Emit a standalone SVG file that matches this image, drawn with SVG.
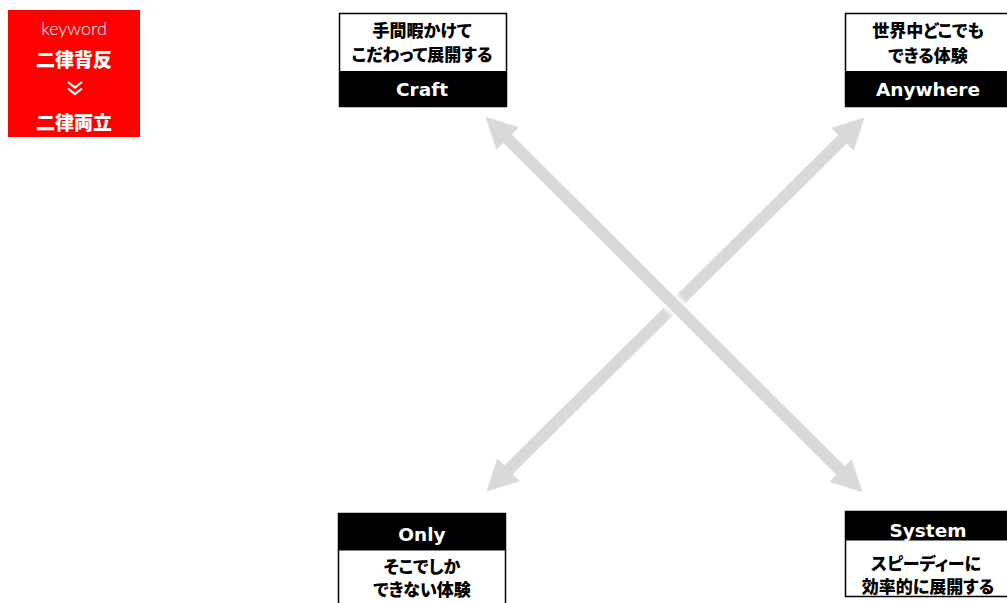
<svg xmlns="http://www.w3.org/2000/svg" width="1007" height="603" viewBox="0 0 1007 603">
<style>
.jp{font-family:"Noto Sans CJK JP","Noto Sans",sans-serif;font-weight:900;font-size:17px;fill:#000;text-anchor:middle;font-feature-settings:"palt";}
.en{font-family:"DejaVu Sans",sans-serif;font-weight:700;font-size:18.5px;fill:#fff;text-anchor:middle;}
.box{fill:#fff;stroke:#000;stroke-width:1.5;}
.band{fill:#000;}
.arrow{fill:#d9d9d9;}
.kw{fill:#fff;text-anchor:middle;}
</style>
<defs>
<filter id="glow" x="-10%" y="-30%" width="120%" height="160%">
<feMorphology in="SourceAlpha" operator="dilate" radius="2" result="d"/>
<feGaussianBlur in="d" stdDeviation="2.5" result="b"/>
<feFlood flood-color="#ffffff"/>
<feComposite in2="b" operator="in" result="g"/>
<feMerge><feMergeNode in="g"/><feMergeNode in="g"/><feMergeNode in="SourceGraphic"/></feMerge>
</filter>
<polygon id="dbl" points="-266,0 -235,-16 -235,-6 235,-6 235,-16 266,0 235,16 235,6 -235,6 -235,16"/>
</defs>
<g id="connectors">
<use href="#dbl" class="arrow" transform="translate(675.5,304.5) rotate(-44.7)" filter="url(#glow)"/>
<use href="#dbl" class="arrow" transform="translate(674,304.5) rotate(44.9)" filter="url(#glow)"/>
</g>
<g id="keyword">
<rect x="8" y="10" width="132" height="127" fill="#ff0000"/>
<text class="kw" x="74" y="35" font-family="Lato,'Open Sans',sans-serif" font-weight="300" font-size="18">keyword</text>
<text class="kw" x="74" y="67" font-family="'Noto Sans CJK JP',sans-serif" font-weight="900" font-size="19">二律背反</text>
<polyline points="68,82 75,87.5 82,82" fill="none" stroke="#fff" stroke-width="2.2"/>
<polyline points="68,88.5 75,94 82,88.5" fill="none" stroke="#fff" stroke-width="2.2"/>
<text class="kw" x="74" y="130" font-family="'Noto Sans CJK JP',sans-serif" font-weight="900" font-size="19">二律両立</text>
</g>
<g id="craft">
<rect class="box" x="339.5" y="13.5" width="167" height="93"/>
<rect class="band" x="339.5" y="71" width="167" height="35.5"/>
<text class="jp" x="422" y="37">手間暇かけて</text>
<text class="jp" x="422" y="61">こだわって展開する</text>
<text class="en" x="422" y="96">Craft</text>
</g>
<g id="anywhere">
<rect class="box" x="845.5" y="13.5" width="167" height="93"/>
<rect class="band" x="845.5" y="71" width="167" height="35.5"/>
<text class="jp" x="928" y="37">世界中どこでも</text>
<text class="jp" x="928" y="62">できる体験</text>
<text class="en" x="928" y="96">Anywhere</text>
</g>
<g id="only">
<rect class="box" x="338.5" y="513.5" width="167" height="100"/>
<rect class="band" x="338.5" y="513.5" width="167" height="37"/>
<text class="en" x="422" y="541">Only</text>
<text class="jp" x="422" y="573">そこでしか</text>
<text class="jp" x="422" y="596">できない体験</text>
</g>
<g id="system">
<rect class="box" x="845.5" y="511.5" width="167" height="85"/>
<rect class="band" x="845.5" y="511.5" width="167" height="29"/>
<text class="en" x="928" y="537">System</text>
<text class="jp" x="926" y="570">スピーディーに</text>
<text class="jp" x="928" y="593">効率的に展開する</text>
</g>
</svg>
